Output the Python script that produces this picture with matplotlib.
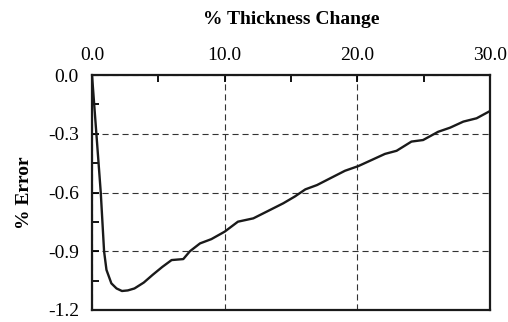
import matplotlib
matplotlib.use('Agg')
import matplotlib.pyplot as plt
from matplotlib.ticker import MultipleLocator

# thickness change (%) vs error (%)
thickness = [0.0, 0.33, 0.66, 0.91, 1.09, 1.46, 1.85, 2.26, 2.7, 3.2, 3.9,
             4.58, 5.3, 6.0, 6.88, 7.38, 8.14, 9.0, 10.0, 11.0, 12.16, 13.16,
             14.42, 15.3, 16.08, 16.96, 17.94, 19.07, 20.08, 21.08, 22.08,
             22.96, 24.08, 24.96, 26.09, 26.99, 27.99, 28.99, 30.0]
error = [0.0, -0.30, -0.60, -0.90, -0.995, -1.064, -1.09, -1.103, -1.1,
         -1.09, -1.06, -1.02, -0.98, -0.945, -0.94, -0.90, -0.86, -0.838,
         -0.80, -0.749, -0.732, -0.698, -0.655, -0.62, -0.584, -0.562,
         -0.528, -0.489, -0.465, -0.434, -0.403, -0.387, -0.340, -0.332,
         -0.29, -0.269, -0.238, -0.221, -0.184]

plt.rcParams['font.family'] = 'Liberation Serif'
plt.rcParams['font.size'] = 14

fig = plt.figure(figsize=(5.08, 3.22), dpi=100)
ax = fig.add_axes([92 / 508, 12 / 322, 398 / 508, 235 / 322])

ax.plot(thickness, error, color='#1a1a1a', lw=1.7)

ax.set_xlim(0, 30)
ax.set_ylim(-1.2, 0)
ax.xaxis.tick_top()
ax.xaxis.set_label_position('top')
ax.set_xticks([0, 10, 20, 30])
ax.set_xticklabels(['0.0', '10.0', '20.0', '30.0'])
ax.xaxis.set_minor_locator(MultipleLocator(5))
ax.set_yticks([0, -0.3, -0.6, -0.9, -1.2])
ax.set_yticklabels(['0.0', '-0.3', '-0.6', '-0.9', '-1.2'])
ax.yaxis.set_minor_locator(MultipleLocator(0.15))
ax.tick_params(which='both', direction='in', length=5, width=1.3,
               top=True, bottom=False, left=True, right=False)
ax.tick_params(axis='x', pad=7.7)
ax.tick_params(axis='y', pad=9.4)

ax.set_xlabel('% Thickness Change', fontweight='bold', labelpad=16.5)
ax.set_ylabel('% Error', fontweight='bold', labelpad=11)

for s in ax.spines.values():
    s.set_linewidth(1.6)
    s.set_color('#1a1a1a')

ax.grid(True, which='major', color='#333333', linestyle=(0, (5.5, 3.5)), lw=0.8)

fig.savefig('out.png', dpi=100)
